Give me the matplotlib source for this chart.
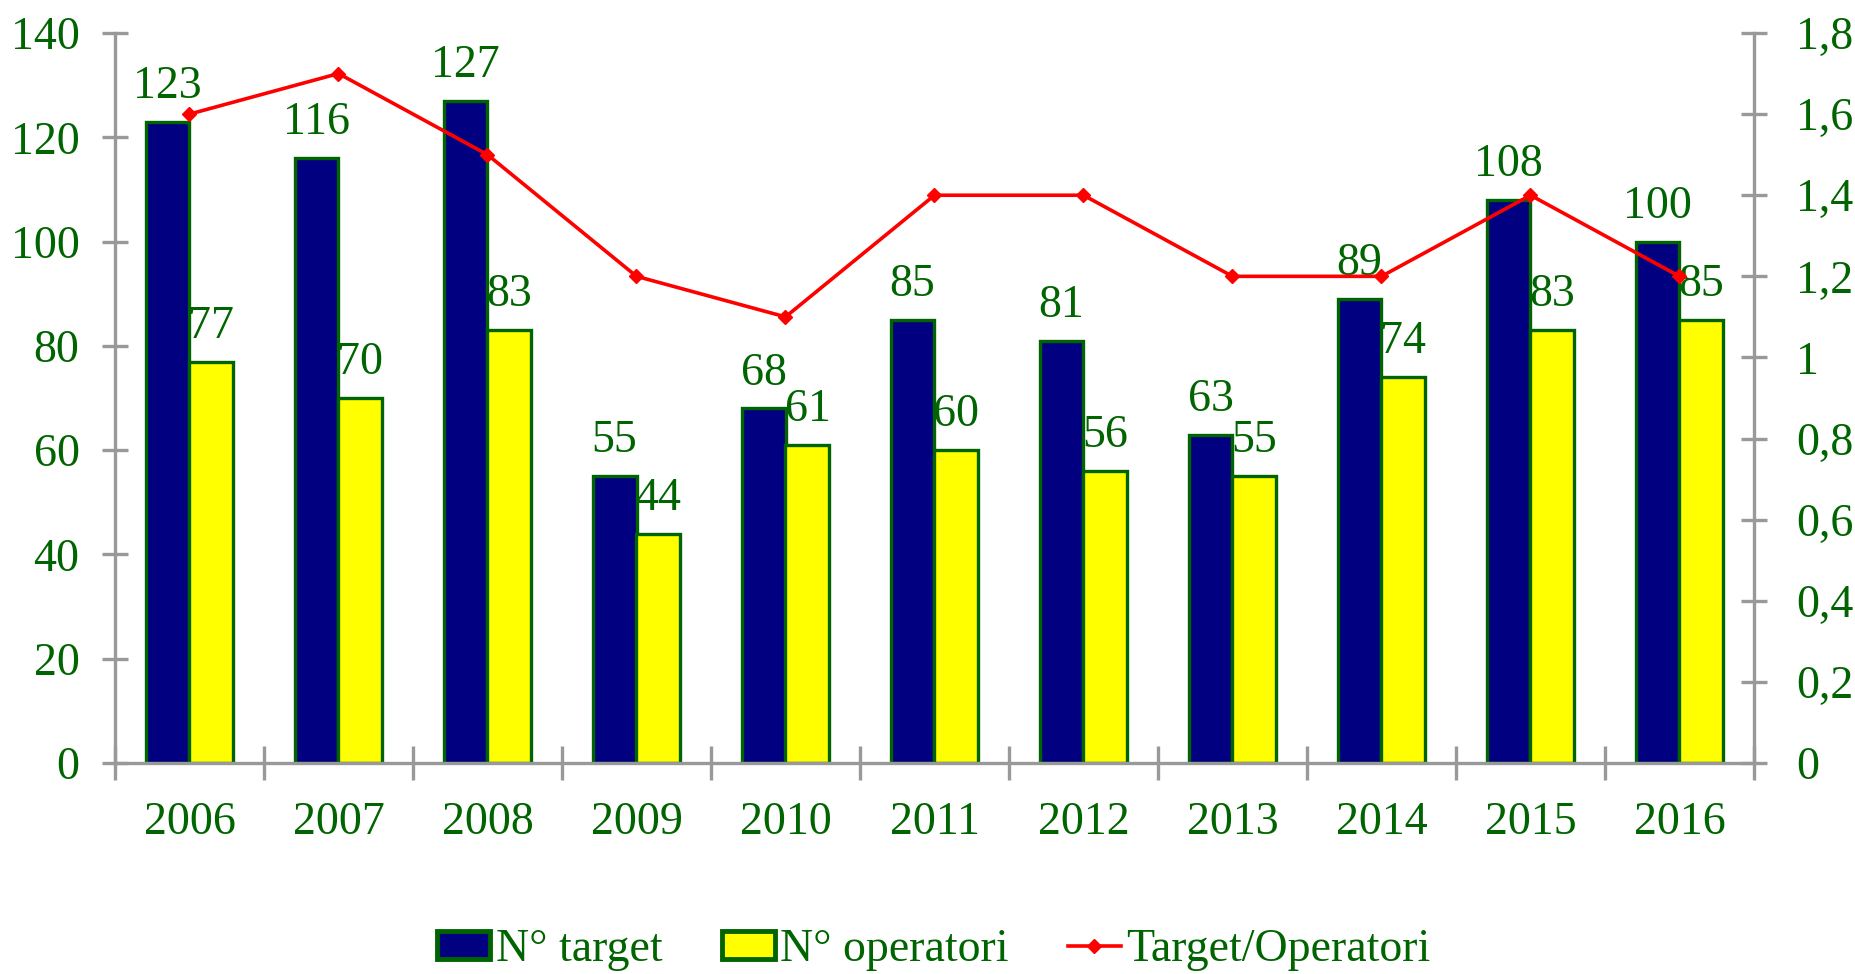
import matplotlib
matplotlib.use("Agg")
import matplotlib.pyplot as plt
import numpy as np

years = ["2006", "2007", "2008", "2009", "2010", "2011", "2012", "2013", "2014", "2015", "2016"]
n_target = [123, 116, 127, 55, 68, 85, 81, 63, 89, 108, 100]
n_operatori = [77, 70, 83, 44, 61, 60, 56, 55, 74, 83, 85]
ratio = [1.6, 1.7, 1.5, 1.2, 1.1, 1.4, 1.4, 1.2, 1.2, 1.4, 1.2]

green = "#006400"
grey = "#999999"
fs = 33
plt.rcParams['font.family'] = ['Liberation Serif', 'DejaVu Serif']

fig = plt.figure(figsize=(18.56, 9.74), dpi=100)
ax = fig.add_axes([115 / 1856, 1 - 763 / 974, (1754 - 115) / 1856, (763 - 33) / 974])
ax2 = ax.twinx()

x = np.arange(len(years))
w = 0.295
b1 = ax.bar(x - w / 2, n_target, w, color="#000080", edgecolor=green, linewidth=2.4, label="N° target", zorder=2)
b2 = ax.bar(x + w / 2, n_operatori, w, color="#FFFF00", edgecolor=green, linewidth=2.4, label="N° operatori", zorder=2)
for bars, vals in ((b1, n_target), (b2, n_operatori)):
    for r, v in zip(bars, vals):
        ax.annotate(str(v), (r.get_x() + r.get_width() / 2, r.get_height()), xytext=(0, 10),
                    textcoords="offset points", ha="center", va="bottom", fontsize=fs, color=green, zorder=5)

ln, = ax2.plot(x, ratio, color="red", lw=2.6, marker="D", markersize=7, label="Target/Operatori", zorder=4)

ax.set_xlim(-0.5, len(years) - 0.5)
ax.set_ylim(0, 140)
ax.set_yticks(range(0, 141, 20))
ax2.set_ylim(0, 1.8)
ax2.set_yticks(np.arange(0, 1.81, 0.2))
ax2.set_yticklabels(["0" if t == 0 else ("1" if abs(t - 1) < 1e-9 else f"{t:.1f}".replace(".", ",")) for t in np.arange(0, 1.81, 0.2)])

ax.set_xticks(x)
ax.set_xticklabels(years)
ax.set_xticks(np.arange(-0.5, len(years), 1), minor=True)
ax.tick_params(axis="x", which="major", length=0, pad=28, labelsize=fs, labelcolor=green)
ax.tick_params(axis="x", which="minor", direction="inout", length=24, width=2.4, color=grey)
ax.tick_params(axis="y", direction="inout", length=19, width=2.4, color=grey, pad=16, labelsize=fs, labelcolor=green)
ax2.tick_params(axis="y", direction="inout", length=19, width=2.4, color=grey, pad=21, labelsize=fs, labelcolor=green)

for a in (ax, ax2):
    a.spines["top"].set_visible(False)
    for s in ("left", "right", "bottom"):
        a.spines[s].set_color(grey)
        a.spines[s].set_linewidth(2.4)
ax.spines["right"].set_visible(False)
ax2.spines["left"].set_visible(False)
ax2.spines["bottom"].set_visible(False)

ax.set_zorder(ax2.get_zorder() - 1)
ax.patch.set_visible(False)
ax2.patch.set_visible(False)

leg = fig.legend([b1, b2, ln], ["N° target", "N° operatori", "Target/Operatori"], loc="center",
                 bbox_to_anchor=(934 / 1856, 1 - 950 / 974), ncol=3, frameon=False, fontsize=fs,
                 handlelength=1.15, handleheight=0.55, handletextpad=0.12, columnspacing=1.3)
for t in leg.get_texts():
    t.set_color(green)
for p in leg.get_patches():
    p.set_linewidth(3.5)

fig.savefig("out.png", dpi=100)
